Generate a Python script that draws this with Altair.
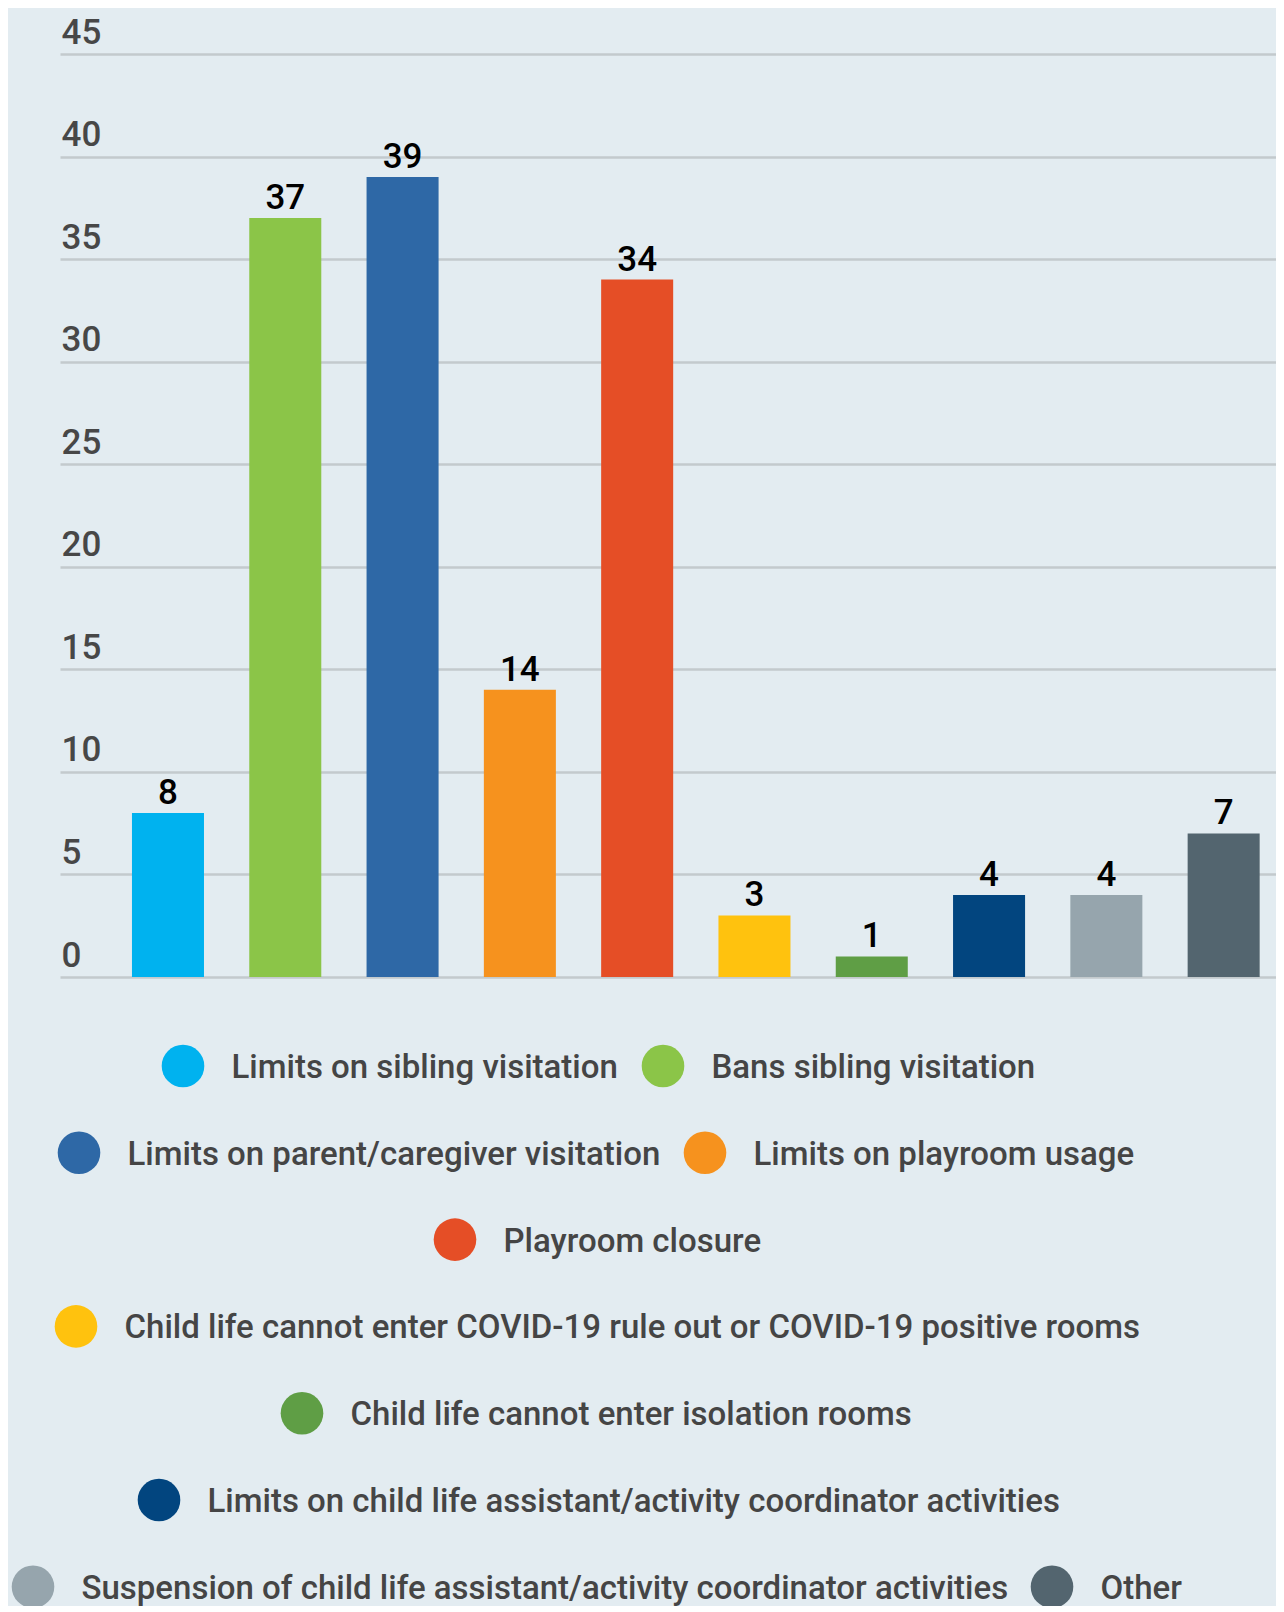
import altair as alt
import pandas as pd

# ---- data ----
categories = [
    "Limits on sibling visitation",
    "Bans sibling visitation",
    "Limits on parent/caregiver visitation",
    "Limits on playroom usage",
    "Playroom closure",
    "Child life cannot enter COVID-19 rule out or COVID-19 positive rooms",
    "Child life cannot enter isolation rooms",
    "Limits on child life assistant/activity coordinator activities",
    "Suspension of child life assistant/activity coordinator activities",
    "Other",
]
values = [8, 37, 39, 14, 34, 3, 1, 4, 4, 7]
colors = ["#00B2EF", "#8BC548", "#2E68A6", "#F6921E", "#E54E26",
          "#FFC20E", "#5F9E45", "#02457F", "#96A5AD", "#53656F"]
y_ticks = [0, 5, 10, 15, 20, 25, 30, 35, 40, 45]

# ---- legend layout (row index and circle position, pixels) ----
legend_row = [0, 0, 1, 1, 2, 3, 4, 5, 6, 6]
legend_circle_x = [183, 663, 79, 705, 455, 76, 302, 159, 33, 1052]

PLOT_LEFT = 60   # absolute page x of plot origin
PLOT_TOP = 8     # absolute page y of plot origin
ROW0_Y = 1066
ROW_STEP = 86.8

df = pd.DataFrame({"cat": categories, "value": values})
leg = pd.DataFrame({
    "cat": categories,
    "cx": [x - PLOT_LEFT for x in legend_circle_x],
    "tx": [x - PLOT_LEFT + 48.5 for x in legend_circle_x],
    "cy": [ROW0_Y + r * ROW_STEP - PLOT_TOP for r in legend_row],
})

color_scale = alt.Scale(domain=categories, range=colors)
FONT = "Roboto"

x_enc = alt.X("cat:N", sort=categories, axis=None,
              scale=alt.Scale(type="band", paddingInner=0.386, paddingOuter=0.3764, align=0.815))
y_scale = alt.Scale(domain=[0, 45], range=[969, 46], nice=False, zero=True)
y_enc = alt.Y("value:Q", scale=y_scale,
              axis=alt.Axis(values=y_ticks, grid=True, gridColor="#C3CACD", gridWidth=2.5,
                            domain=False, ticks=False, tickSize=0, title=None,
                            labelAlign="left", labelBaseline="alphabetic",
                            labelPadding=-1, labelOffset=-11,
                            labelFont=FONT, labelFontSize=35, labelColor="#474747",
                            labelFontWeight=500))

bars = alt.Chart(df).mark_bar().encode(
    x=x_enc, y=y_enc,
    color=alt.Color("cat:N", scale=color_scale, legend=None),
)
bar_labels = alt.Chart(df).mark_text(
    font=FONT, fontSize=35, fontWeight=500, color="#000000",
    baseline="alphabetic", align="center", dy=-9,
).encode(x=x_enc, y=y_enc, text=alt.Text("value:Q"))

main = alt.layer(bars, bar_labels)

leg_points = alt.Chart(leg).mark_point(filled=True, shape="circle", size=1815, opacity=1).encode(
    x=alt.X("cx:Q", scale=None, axis=None),
    y=alt.Y("cy:Q", scale=None, axis=None),
    color=alt.Color("cat:N", scale=color_scale, legend=None),
)
leg_text = alt.Chart(leg).mark_text(
    font=FONT, fontSize=33, fontWeight=500, color="#454545",
    align="left", baseline="alphabetic", dy=12,
).encode(
    x=alt.X("tx:Q", scale=None, axis=None),
    y=alt.Y("cy:Q", scale=None, axis=None),
    text="cat:N",
)

chart = alt.layer(main, leg_points, leg_text).resolve_scale(
    x="independent", y="independent"
).properties(
    width=1216, height=1598,
    autosize=alt.AutoSizeParams(type="none"),
    padding={"left": 52, "top": 0, "right": 0, "bottom": 0},
    background="#E3ECF1",
).configure_view(stroke=None)

chart.save("out.html", embed_options={"renderer": "svg", "actions": False})
